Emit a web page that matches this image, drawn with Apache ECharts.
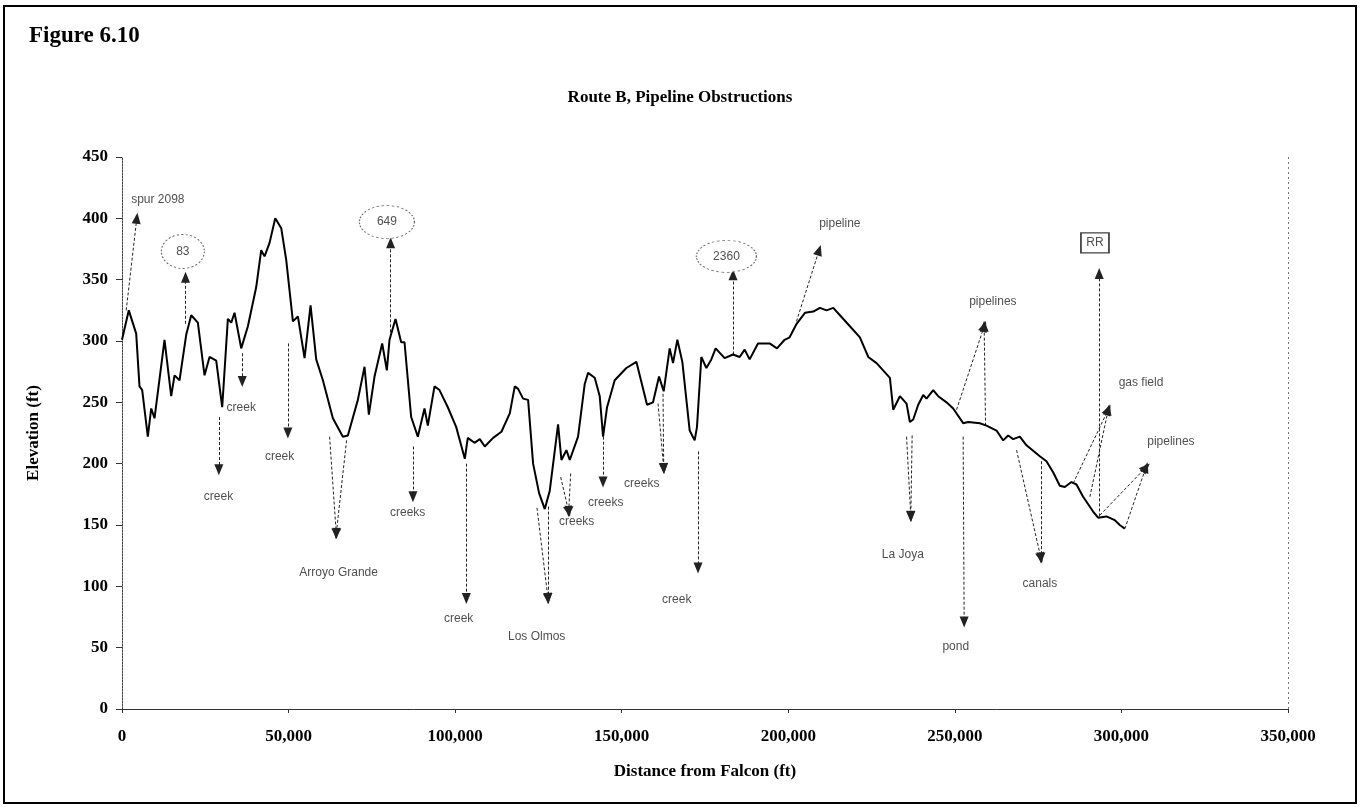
<!DOCTYPE html>
<html>
<head>
<meta charset="utf-8">
<title>Route B, Pipeline Obstructions</title>
<script src="https://cdn.jsdelivr.net/npm/echarts@6/dist/echarts.min.js"></script>
<style>
  html, body { margin: 0; padding: 0; background: #fff; }
  #chart { width: 1360px; height: 810px; }
</style>
</head>
<body>
<div id="chart"></div>
<script>
// Elevation profile along Route B (distance from Falcon, ft / elevation, ft)
const distanceFt = [
  0, 2040, 4260, 5250, 6060, 7750, 8770, 9760, 12760, 14770, 15770, 17270, 19270, 20780,
  22770, 24770, 26280, 28280, 30080, 31780, 32790, 33780, 35790, 37790, 40290, 41790,
  42790, 44290, 46000, 47800, 49300, 51300, 52800, 54800, 56600, 58300, 60300, 63300,
  66300, 67800, 70800, 72800, 74100, 75800, 78100, 79500, 80300, 82100, 83800, 84800,
  86800, 88800, 90800, 91800, 93800, 95300, 97800, 100300, 102900, 103800, 105800, 107400,
  108900, 111400, 113900, 116400, 117900, 118900, 120400, 121900, 123400, 125200, 126900,
  128400, 130900, 131900, 133400, 134400, 136900, 138900, 139900, 141900, 143400, 144400,
  145600, 147900, 151400, 154400, 157600, 159400, 161200, 162600, 164400, 165400, 166700,
  168200, 170400, 171900, 172600, 173900, 175400, 176900, 178200, 180900, 183400, 185400,
  186900, 188400, 190900, 194400, 196600, 198900, 200400, 202500, 205000, 207500, 209500,
  211500, 213500, 215500, 218500, 221500, 224000, 226500, 230500, 231500, 233500, 235500,
  236500, 237500, 239000, 240500, 241500, 243500, 245000, 247500, 249500, 252500, 254000,
  257500, 259500, 262500, 264500, 266000, 267500, 269500, 271500, 275500, 277500, 279500,
  281500, 283000, 285000, 286500, 288500, 291500, 293000, 295500, 298000, 299500, 301000
];
const elevationFt = [
  301, 325, 306, 263, 260, 222, 245, 237, 301, 255, 272, 268, 305, 321,
  315, 272, 287, 284, 246, 318, 315, 323, 294, 312, 344, 374,
  369, 380, 400, 392, 366, 316, 320, 286, 329, 285, 268, 237,
  222, 223, 252, 279, 240, 271, 298, 276, 301, 318, 299, 299,
  238, 222, 245, 231, 263, 260, 246, 230, 204, 221, 217, 220,
  214, 221, 226, 241, 263, 261, 253, 252, 200, 176, 163,
  178, 232, 203, 211, 203, 222, 265, 274, 270, 255, 222,
  246, 268, 278, 283, 248, 250, 271, 259, 294, 282, 301,
  283, 227, 219, 230, 287, 278, 285, 294, 286, 289, 287,
  293, 285, 298, 298, 294, 301, 303, 314, 323, 324, 327,
  325, 327, 321, 312, 303, 287, 282, 270, 244, 255, 249,
  234, 236, 248, 256, 253, 260, 255, 250, 245, 233, 234,
  233, 231, 227, 219, 223, 220, 222, 215, 206, 202, 193,
  182, 181, 185, 183, 173, 161, 156, 157, 154, 150, 147
];

// Axis ticks
const xTicks = [0, 50000, 100000, 150000, 200000, 250000, 300000, 350000];
const yTicks = [0, 50, 100, 150, 200, 250, 300, 350, 400, 450];

// Obstruction notes: text and where the text sits (distance, elevation)
const noteText = [
  'spur 2098', '83', 'creek', 'creek', 'creek', 'Arroyo Grande', '649', 'creeks',
  'creek', 'Los Olmos', 'creeks', 'creeks', 'creeks', 'creek', '2360', 'pipeline',
  'La Joya', 'pond', 'pipelines', 'canals', 'RR', 'gas field', 'pipelines'
];
const noteX = [
  10750, 18260, 28980, 35800, 47300, 65010, 79520, 85740,
  101050, 124480, 136480, 145200, 156010, 166520, 181440, 215470,
  234380, 250280, 261410, 275520, 292050, 305870, 314860
];
const noteY = [
  415, 373, 173, 246, 206, 111, 397, 160,
  74, 59, 153, 168, 184, 89, 369, 396,
  126, 51, 332, 102, 380, 266, 218
];

// Arrow heads for each note (distance, elevation)
const tipX = [
  4440, 19070, 29070, 36090, 49790, 64320, 80630, 87330,
  103360, 127870, 134080, 144390, 162610, 172910, 183420, 209250,
  236780, 252790, 258800, 275820, 293330, 296030, 307350
];
const tipY = [
  400, 352, 195, 267, 225, 143, 380, 173,
  90, 90, 161, 185, 196, 115, 354, 374,
  157, 71, 312, 123, 355, 244, 197
];

// Arrow tails for each note: one or two starting points (distance, elevation)
const tailPoints = [
  [[1260, 325]],
  [[19070, 314]],
  [[29070, 238]],
  [[36090, 290]],
  [[49790, 298]],
  [[62310, 222], [67410, 219]],
  [[80630, 303]],
  [[87330, 214]],
  [[103360, 200]],
  [[124570, 164], [127870, 165]],
  [[131680, 189], [134680, 192]],
  [[144390, 222]],
  [[160900, 249], [162400, 257]],
  [[172910, 210]],
  [[183420, 289]],
  [[202460, 316]],
  [[235500, 222], [237180, 223]],
  [[252490, 222]],
  [[250510, 244], [259220, 231]],
  [[268530, 211], [275820, 202]],
  [[293330, 157]],
  [[285520, 184], [290530, 173]],
  [[293540, 158], [301040, 147]]
];

const ellipseNotes = new Set(['83', '649', '2360']);
const boxNotes = new Set(['RR']);
const ellipseSizes = { '83': [43, 34], '649': [55, 33], '2360': [60, 32] };

const serif = '"Liberation Serif", "Times New Roman", serif';
const sans = '"Liberation Sans", Arial, sans-serif';

const profile = distanceFt.map((d, i) => [d, elevationFt[i]]);

const arrowLines = [];
tailPoints.forEach((tails, i) => {
  tails.forEach(t => {
    arrowLines.push([
      { coord: t },
      { coord: [tipX[i], tipY[i]] }
    ]);
  });
});

const plainNotes = [];
const badgeNotes = [];
noteText.forEach((t, i) => {
  const item = { name: t, value: [noteX[i], noteY[i]] };
  if (ellipseNotes.has(t)) {
    item.symbol = 'circle';
    item.symbolSize = ellipseSizes[t];
    item.itemStyle = { color: '#fff', borderColor: '#444', borderWidth: 1, borderType: [2, 2] };
    badgeNotes.push(item);
  } else if (boxNotes.has(t)) {
    item.symbol = 'rect';
    item.symbolSize = [28, 20];
    item.itemStyle = { color: '#fff', borderColor: '#111', borderWidth: 1.5 };
    badgeNotes.push(item);
  } else {
    plainNotes.push(item);
  }
});

const chart = echarts.init(document.getElementById('chart'), null, { renderer: 'canvas' });

chart.setOption({
  animation: false,
  backgroundColor: '#fff',
  title: [
    {
      text: 'Figure 6.10', left: 24, top: 20,
      textStyle: { fontFamily: serif, fontWeight: 'bold', fontSize: 23, color: '#000' }
    },
    {
      text: 'Route B, Pipeline Obstructions', left: 'center', top: 84,
      textStyle: { fontFamily: serif, fontWeight: 'bold', fontSize: 17, color: '#000' }
    }
  ],
  graphic: [
    {
      type: 'rect',
      shape: { x: 4, y: 6, width: 1352, height: 797 },
      style: { fill: 'none', stroke: '#000', lineWidth: 2 },
      silent: true
    }
  ],
  grid: { left: 122, right: 72, top: 157, bottom: 101 },
  xAxis: {
    type: 'value',
    min: xTicks[0],
    max: xTicks[xTicks.length - 1],
    interval: xTicks[1] - xTicks[0],
    name: 'Distance from Falcon (ft)',
    nameLocation: 'middle',
    nameGap: 54,
    nameTextStyle: { fontFamily: serif, fontWeight: 'bold', fontSize: 17, color: '#000' },
    axisLine: { show: true, lineStyle: { color: '#333', width: 1 } },
    axisTick: { show: true, length: 4, lineStyle: { color: '#333' } },
    splitLine: { show: false },
    axisLabel: {
      margin: 19,
      fontFamily: serif, fontWeight: 'bold', fontSize: 17, color: '#000',
      formatter: v => v.toLocaleString('en-US')
    }
  },
  yAxis: {
    type: 'value',
    min: yTicks[0],
    max: yTicks[yTicks.length - 1],
    interval: yTicks[1] - yTicks[0],
    name: 'Elevation (ft)',
    nameLocation: 'middle',
    nameGap: 80,
    nameTextStyle: { fontFamily: serif, fontWeight: 'bold', fontSize: 17, color: '#000' },
    axisLine: { show: true, lineStyle: { color: '#444', width: 1, type: [2, 1] } },
    axisTick: { show: true, length: 6, lineStyle: { color: '#333' } },
    splitLine: { show: false },
    axisLabel: {
      margin: 14,
      fontFamily: serif, fontWeight: 'bold', fontSize: 17, color: '#000'
    }
  },
  series: [
    {
      name: 'Elevation',
      type: 'line',
      data: profile,
      showSymbol: false,
      smooth: false,
      lineStyle: { color: '#000', width: 2 },
      z: 5,
      markLine: {
        silent: true,
        symbol: 'none',
        label: { show: false },
        lineStyle: { color: '#777', width: 1, type: [2, 3] },
        data: [[{ coord: [xTicks[xTicks.length - 1], yTicks[0]] }, { coord: [xTicks[xTicks.length - 1], yTicks[yTicks.length - 1]] }]]
      }
    },
    {
      name: 'Arrows',
      type: 'line',
      data: [],
      z: 4,
      markLine: {
        silent: true,
        symbol: ['none', 'triangle'],
        symbolSize: [9, 11],
        label: { show: false },
        lineStyle: { color: '#222', width: 1, type: [3, 2] },
        itemStyle: { color: '#000' },
        emphasis: { disabled: true },
        data: arrowLines
      }
    },
    {
      name: 'Notes',
      type: 'scatter',
      data: plainNotes,
      symbolSize: 1,
      itemStyle: { color: 'rgba(0,0,0,0)' },
      z: 6,
      label: {
        show: true,
        position: 'inside',
        formatter: '{b}',
        fontFamily: sans, fontSize: 12, color: '#222'
      }
    },
    {
      name: 'Route markers',
      type: 'scatter',
      data: badgeNotes,
      z: 7,
      label: {
        show: true,
        position: 'inside',
        formatter: '{b}',
        fontFamily: sans, fontSize: 12, color: '#222'
      }
    }
  ]
});
</script>
</body>
</html>
